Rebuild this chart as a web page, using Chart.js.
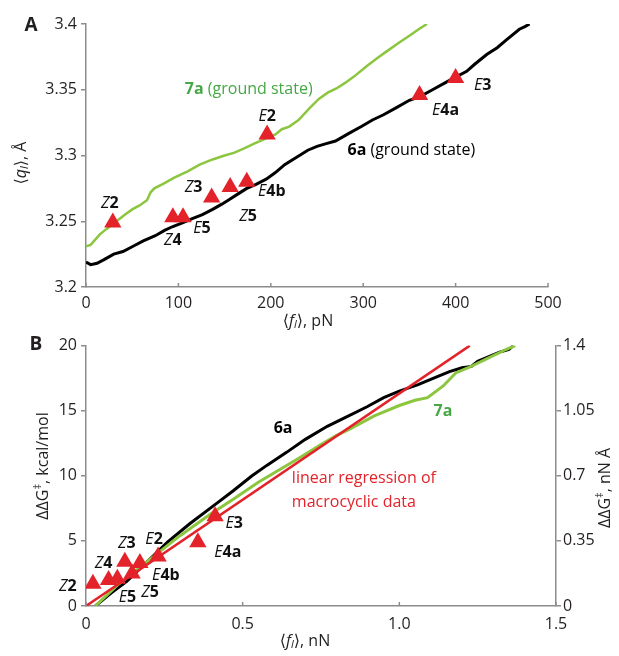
<!DOCTYPE html>
<html>
<head>
<meta charset="utf-8">
<script src="https://cdn.jsdelivr.net/npm/chart.js@4.4.0/dist/chart.umd.min.js"></script>
<style>
  html, body { margin: 0; padding: 0; background: #fff; }
  #wrapA { position: absolute; left: 0; top: 0; width: 619px; height: 332px; }
  #wrapB { position: absolute; left: 0; top: 332px; width: 619px; height: 324px; }
</style>
</head>
<body>
<div id="wrapA"><canvas id="chartA"></canvas></div>
<div id="wrapB"><canvas id="chartB"></canvas></div>
<script>
// ---- panel A: <q_l> (Å) against <f_l> (pN)
let forceA6a = [0, 5, 12, 20, 30, 40, 51, 62, 75, 85, 94, 105, 115, 126, 137, 147, 156, 165, 174, 184, 195, 205, 215, 224, 231, 240, 250, 260, 270, 285, 298, 310, 322, 335, 350, 362, 375, 388, 401, 412, 420, 434, 445, 455, 469, 475, 480];
let qA6a = [3.219, 3.217, 3.218, 3.221, 3.225, 3.227, 3.231, 3.235, 3.239, 3.243, 3.246, 3.249, 3.252, 3.255, 3.259, 3.263, 3.267, 3.271, 3.275, 3.278, 3.282, 3.287, 3.293, 3.297, 3.300, 3.304, 3.307, 3.309, 3.311, 3.317, 3.322, 3.327, 3.331, 3.336, 3.342, 3.345, 3.350, 3.355, 3.360, 3.364, 3.369, 3.377, 3.382, 3.388, 3.396, 3.398, 3.400];

let forceA7a = [0, 5, 10, 15, 22, 33, 42, 50, 58, 66, 70, 74, 85, 95, 110, 123, 137, 150, 160, 170, 182, 195, 205, 212, 220, 230, 242, 252, 262, 271, 280, 290, 304, 315, 325, 339, 350, 360, 369];
let qA7a = [3.231, 3.232, 3.236, 3.240, 3.244, 3.250, 3.255, 3.259, 3.262, 3.266, 3.272, 3.275, 3.279, 3.283, 3.288, 3.293, 3.297, 3.300, 3.302, 3.305, 3.309, 3.313, 3.316, 3.320, 3.322, 3.327, 3.336, 3.343, 3.348, 3.351, 3.355, 3.360, 3.368, 3.374, 3.379, 3.386, 3.391, 3.396, 3.400];

let isoNames = ["Z2", "Z4", "E5", "Z3", "Z5", "E4b", "E2", "E4a", "E3"];
let forceAIso = [29, 94, 105, 136, 156, 174, 196, 361, 400];
let qAIso = [3.249, 3.253, 3.253, 3.268, 3.276, 3.280, 3.316, 3.346, 3.359];

let xTicksA = [0, 100, 200, 300, 400, 500];
let yTicksA = [3.2, 3.25, 3.3, 3.35, 3.4];
let yTickLabelsA = ["3.2", "3.25", "3.3", "3.35", "3.4"];

// ---- panel B: ΔΔG‡ (kcal/mol) against <f_l> (nN)
let forceB6a = [0.03, 0.08, 0.13, 0.2, 0.26, 0.33, 0.418, 0.47, 0.53, 0.577, 0.64, 0.7, 0.77, 0.83, 0.897, 0.95, 1.0, 1.06, 1.1, 1.16, 1.2, 1.23, 1.25, 1.32, 1.35, 1.363];
let dG6a = [0, 1.0, 1.9, 3.5, 4.9, 6.3, 7.9, 8.85, 10.0, 10.8, 11.8, 12.8, 13.8, 14.5, 15.3, 16.0, 16.5, 17.0, 17.4, 18.0, 18.3, 18.4, 18.8, 19.5, 19.7, 20.0];

let forceB7a = [0.03, 0.1, 0.2, 0.3, 0.4, 0.47, 0.55, 0.62, 0.683, 0.75, 0.8, 0.843, 0.92, 1.0, 1.05, 1.09, 1.14, 1.18, 1.22, 1.28, 1.34, 1.37];
let dG7a = [0, 1.6, 3.5, 5.4, 7.1, 8.2, 9.5, 10.5, 11.4, 12.4, 13.1, 13.6, 14.6, 15.4, 15.8, 16.0, 16.9, 17.9, 18.3, 19.0, 19.7, 20.0];

let regForce = [0, 1.225];
let regDG = [0, 20];

let forceBIso = [0.022, 0.072, 0.1, 0.124, 0.147, 0.172, 0.23, 0.357, 0.412];
let dGBIso = [1.7, 2.0, 2.1, 3.4, 2.5, 3.3, 3.8, 4.9, 6.9];

let xTicksB = [0, 0.5, 1, 1.5];
let xTickLabelsB = ["0", "0.5", "1.0", "1.5"];
let yTicksB = [0, 5, 10, 15, 20];
let y2TicksB = [0, 0.35, 0.7, 1.05, 1.4];
let y2TickLabelsB = ["0", "0.35", "0.7", "1.05", "1.4"];

// ---- styles
const FAM = '"Open Sans", "DejaVu Sans", sans-serif';
const fReg = "16px " + FAM;
const fIt = "italic 16px " + FAM;
const fBold = "bold 16px " + FAM;
const fSub = "italic 11px " + FAM;
const fSup = "11px " + FAM;
const textColor = "#231f20";
const axisColor = "#8c8c8c";
const black = "#000000";
const greenLine = "#8cc63f";
const greenText = "#45a844";
const red = "#e3222a";

// label offsets from each triangle, in px
const labelOffA = {
  Z2: [-3, -19], Z4: [0, 23], E5: [19, 11], Z3: [-18, -10], Z5: [18, 29],
  E4b: [25, 10], E2: [0, -18], E4a: [26, 15], E3: [27, 8],
};
const labelOffB = {
  Z2: [-25, 3], Z4: [-5, -17], E5: [10, 19], Z3: [2, -18], Z5: [18, 19],
  E4b: [26, 12], E2: [-4, -17], E4a: [30, 10], E3: [19, 7],
};

const toXY = (xs, ys) => xs.map((x, i) => ({ x: x, y: ys[i] }));

function richText(ctx, parts, x, y, align) {
  let w = 0;
  parts.forEach((p) => { ctx.font = p[1]; w += ctx.measureText(p[0]).width; });
  let cx = align === "center" ? x - w / 2 : align === "right" ? x - w : x;
  ctx.textAlign = "left";
  ctx.textBaseline = "middle";
  parts.forEach((p) => {
    ctx.font = p[1];
    ctx.fillText(p[0], cx, y + (p[2] || 0));
    cx += ctx.measureText(p[0]).width;
  });
}

function rotatedText(ctx, parts, x, y) {
  ctx.save();
  ctx.translate(x, y);
  ctx.rotate(-Math.PI / 2);
  richText(ctx, parts, 0, 0, "center");
  ctx.restore();
}

function isoParts(name) {
  return [[name[0], fIt], [name.slice(1), fBold]];
}

function isoLabels(chart, xs, ys, offs) {
  const ctx = chart.ctx;
  ctx.fillStyle = "#111";
  isoNames.forEach((n, i) => {
    const px = chart.scales.x.getPixelForValue(xs[i]);
    const py = chart.scales.y.getPixelForValue(ys[i]);
    richText(ctx, isoParts(n), px + offs[n][0], py + offs[n][1], "center");
  });
}

// small inward tick marks on the bottom axis
function innerTicks(chart) {
  const ctx = chart.ctx, sx = chart.scales.x, b = chart.chartArea.bottom;
  ctx.save();
  ctx.strokeStyle = axisColor;
  ctx.lineWidth = 1.5;
  sx.ticks.forEach((t) => {
    const px = sx.getPixelForValue(t.value);
    ctx.beginPath();
    ctx.moveTo(px, b);
    ctx.lineTo(px, b - 4);
    ctx.stroke();
  });
  ctx.restore();
}

function axisBase(min, max, ticks, labels, fit) {
  return {
    type: "linear",
    min: min,
    max: max,
    afterBuildTicks: (s) => { s.ticks = ticks.map((v) => ({ value: v })); },
    afterFit: fit,
    grid: { drawOnChartArea: false, drawTicks: true, tickLength: 5, color: axisColor, lineWidth: 1.5 },
    border: { color: axisColor, width: 1.5 },
    ticks: {
      font: { family: FAM, size: 16 },
      color: textColor,
      padding: 4,
      maxRotation: 0,
      callback: (v) => labels[ticks.indexOf(v)] !== undefined ? labels[ticks.indexOf(v)] : String(v),
    },
  };
}

// ---------------- panel A
const xA = axisBase(0, 500, xTicksA, xTicksA.map(String), (s) => { s.height = 45; });
xA.grid.drawTicks = false;
xA.ticks.padding = 7;
const yA = axisBase(3.2, 3.4, yTicksA, yTickLabelsA, (s) => { s.width = 86; });

const panelAPlugin = {
  id: "panelA",
  afterDatasetsDraw(chart) {
    const ctx = chart.ctx;
    ctx.save();
    innerTicks(chart);
    ctx.fillStyle = textColor;
    ctx.font = "bold 19px " + FAM;
    ctx.textAlign = "center";
    ctx.textBaseline = "middle";
    ctx.fillText("A", 31, 26);
    rotatedText(ctx, [["⟨", fReg], ["q", fIt], ["l", fSub, 4], ["⟩, Å", fReg]], 21, 163);
    richText(ctx, [["⟨", fReg], ["f", fIt], ["l", fSub, 4], ["⟩, pN", fReg]], 308, 321, "center");

    const sx = chart.scales.x, sy = chart.scales.y;
    ctx.fillStyle = greenText;
    richText(ctx, [["7a", fBold], [" (ground state)", fReg]], sx.getPixelForValue(107), sy.getPixelForValue(3.350), "left");
    ctx.fillStyle = black;
    richText(ctx, [["6a", fBold], [" (ground state)", fReg]], sx.getPixelForValue(283), sy.getPixelForValue(3.304), "left");

    isoLabels(chart, forceAIso, qAIso, labelOffA);
    ctx.restore();
  },
};

new Chart(document.getElementById("chartA"), {
  type: "scatter",
  data: {
    datasets: [
      {
        data: toXY(forceAIso, qAIso),
        pointStyle: "triangle",
        pointRadius: 10,
        backgroundColor: red,
        borderWidth: 0,
      },
      {
        data: toXY(forceA6a, qA6a),
        showLine: true,
        borderColor: black,
        borderWidth: 3,
        pointRadius: 0,
      },
      {
        data: toXY(forceA7a, qA7a),
        showLine: true,
        borderColor: greenLine,
        borderWidth: 2.5,
        pointRadius: 0,
      },
    ],
  },
  options: {
    responsive: true,
    maintainAspectRatio: false,
    animation: false,
    layout: { padding: { left: 0, top: 24, right: 71, bottom: 0 } },
    plugins: { legend: { display: false }, tooltip: { enabled: false } },
    scales: { x: xA, y: yA },
  },
  plugins: [panelAPlugin],
});

// ---------------- panel B
const xB = axisBase(0, 1.5, xTicksB, xTickLabelsB, (s) => { s.height = 50; });
xB.grid.drawTicks = false;
xB.ticks.padding = 9;
const yB = axisBase(0, 20, yTicksB, yTicksB.map(String), (s) => { s.width = 86; });
const y2B = axisBase(0, 1.4, y2TicksB, y2TickLabelsB, (s) => { s.width = 63; });
y2B.position = "right";
y2B.ticks.padding = 2;

const panelBPlugin = {
  id: "panelB",
  afterDatasetsDraw(chart) {
    const ctx = chart.ctx;
    ctx.save();
    innerTicks(chart);
    ctx.fillStyle = textColor;
    ctx.font = "bold 19px " + FAM;
    ctx.textAlign = "center";
    ctx.textBaseline = "middle";
    ctx.fillText("B", 36, 13);
    const gParts = [["ΔΔ", fReg], ["G", fReg], ["‡", fSup, -5]];
    rotatedText(ctx, gParts.concat([[", kcal/mol", fReg]]), 43, 134);
    rotatedText(ctx, gParts.concat([[", nN Å", fReg]]), 605, 156);
    richText(ctx, [["⟨", fReg], ["f", fIt], ["l", fSub, 4], ["⟩, nN", fReg]], 305, 309, "center");

    const sx = chart.scales.x, sy = chart.scales.y;
    ctx.fillStyle = black;
    richText(ctx, [["6a", fBold]], sx.getPixelForValue(0.629), sy.getPixelForValue(13.66), "center");
    ctx.fillStyle = greenText;
    richText(ctx, [["7a", fBold]], sx.getPixelForValue(1.139), sy.getPixelForValue(14.96), "center");
    ctx.fillStyle = red;
    richText(ctx, [["linear regression of", fReg]], sx.getPixelForValue(0.657), sy.getPixelForValue(9.77), "left");
    richText(ctx, [["macrocyclic data", fReg]], sx.getPixelForValue(0.657), sy.getPixelForValue(7.94), "left");

    isoLabels(chart, forceBIso, dGBIso, labelOffB);
    ctx.restore();
  },
};

new Chart(document.getElementById("chartB"), {
  type: "scatter",
  data: {
    datasets: [
      {
        data: toXY(forceBIso, dGBIso),
        pointStyle: "triangle",
        pointRadius: 10,
        backgroundColor: red,
        borderWidth: 0,
      },
      {
        data: toXY(regForce, regDG),
        showLine: true,
        borderColor: red,
        borderWidth: 2.5,
        pointRadius: 0,
      },
      {
        data: toXY(forceB7a, dG7a),
        showLine: true,
        borderColor: greenLine,
        borderWidth: 3,
        pointRadius: 0,
      },
      {
        data: toXY(forceB6a, dG6a),
        showLine: true,
        borderColor: black,
        borderWidth: 3,
        pointRadius: 0,
      },
    ],
  },
  options: {
    responsive: true,
    maintainAspectRatio: false,
    animation: false,
    layout: { padding: { left: 0, top: 12, right: 0, bottom: 0 } },
    plugins: { legend: { display: false }, tooltip: { enabled: false } },
    scales: { x: xB, y: yB, y2: y2B },
  },
  plugins: [panelBPlugin],
});
</script>
</body>
</html>
